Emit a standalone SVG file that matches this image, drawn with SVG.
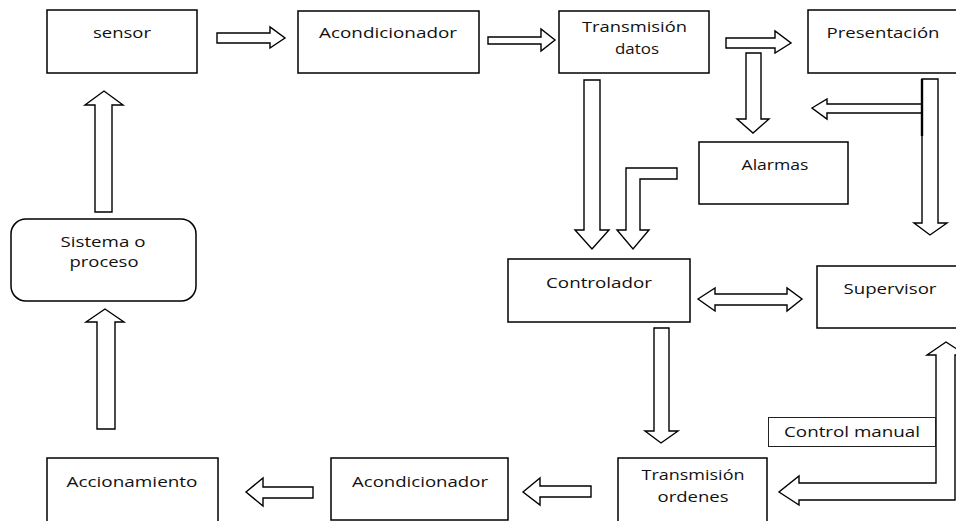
<svg xmlns="http://www.w3.org/2000/svg" width="956" height="521" viewBox="0 0 956 521">
<style>
.box{fill:#fff;stroke:#000;stroke-width:1.5}
.thin{fill:#fff;stroke:#222;stroke-width:1}
.arr{fill:#fff;stroke:#000;stroke-width:1.4;stroke-linejoin:miter}
text{font-family:"Open Sans","Noto Sans","DejaVu Sans",sans-serif;font-size:14px;fill:#111;text-anchor:middle}
</style>
<rect width="956" height="521" fill="#fff"/>
<g id="connectors">
<polygon class="arr" points="217,33 270,33 270,27 285,38 270,48 270,43 217,43"/>
<polygon class="arr" points="488,37 541,37 541,29 555,40 541,51 541,44 488,44"/>
<polygon class="arr" points="726,38 775,38 775,31 791,43 775,53 775,48 726,48"/>
<polygon class="arr" points="746,53 761,53 761,119 769,119 753,133 737,119 746,119"/>
<polygon class="arr" points="922,79 938,79 938,223 947,223 930,235 914,223 922,223"/>
<polygon class="arr" points="812,108 827,99 827,104 922,104 922,113 827,113 827,119"/>
<line x1="922" y1="79" x2="922" y2="136" stroke="#000" stroke-width="2.4"/>
<polygon class="arr" points="584,80 600,80 600,230 609,230 592,249 575,230 584,230"/>
<polygon class="arr" points="677,168 626,168 626,230 617,230 633,249 649,230 640,230 640,179 677,179"/>
<polygon class="arr" points="698,299 715,288 715,294 787,294 787,288 802,299 787,311 787,305 715,305 715,311"/>
<polygon class="arr" points="654,328 669,328 669,431 678,431 661,443 645,431 654,431"/>
<polygon class="arr" points="946,342 966,355 955,355 955,500 799,500 799,505 779,492 799,476 799,483 936,483 936,355 927,355"/>
<polygon class="arr" points="523,492 540,478 540,486 591,486 591,497 540,497 540,505"/>
<polygon class="arr" points="246,492 263,478 263,487 313,487 313,498 263,498 263,506"/>
<polygon class="arr" points="95,212 95,105 85,105 104,91 123,105 112,105 112,212"/>
<polygon class="arr" points="97,429 97,322 86,322 105,309 124,322 115,322 115,429"/>
</g>
<g id="sensor"><rect class="box" x="47" y="10" width="150" height="63"/><text x="122" y="38" textLength="58" lengthAdjust="spacingAndGlyphs">sensor</text></g>
<g id="acondicionador1"><rect class="box" x="298" y="11" width="181" height="62"/><text x="388" y="38" textLength="138" lengthAdjust="spacingAndGlyphs">Acondicionador</text></g>
<g id="transmision-datos"><rect class="box" x="559" y="11" width="150" height="62"/><text x="634.5" y="32" textLength="105" lengthAdjust="spacingAndGlyphs">Transmisión</text><text x="637" y="54" textLength="44" lengthAdjust="spacingAndGlyphs">datos</text></g>
<g id="presentacion"><rect class="box" x="808" y="10" width="170" height="63"/><text x="883" y="38" textLength="113" lengthAdjust="spacingAndGlyphs">Presentación</text></g>
<g id="alarmas"><rect class="box" x="699" y="142" width="149" height="62"/><text x="775" y="170" textLength="67" lengthAdjust="spacingAndGlyphs">Alarmas</text></g>
<g id="controlador"><rect class="box" x="508" y="259" width="182" height="63"/><text x="599" y="288" textLength="106" lengthAdjust="spacingAndGlyphs">Controlador</text></g>
<g id="supervisor"><rect class="box" x="817" y="266" width="170" height="62"/><text x="890" y="294" textLength="93" lengthAdjust="spacingAndGlyphs">Supervisor</text></g>
<g id="control-manual"><rect class="thin" x="768.5" y="417.5" width="167" height="29"/><text x="852" y="437" textLength="136" lengthAdjust="spacingAndGlyphs">Control manual</text></g>
<g id="transmision-ordenes"><rect class="box" x="618" y="458" width="149" height="75"/><text x="693" y="480" textLength="103" lengthAdjust="spacingAndGlyphs">Transmisión</text><text x="693" y="502" textLength="71" lengthAdjust="spacingAndGlyphs">ordenes</text></g>
<g id="acondicionador2"><rect class="box" x="331" y="458" width="177" height="62"/><text x="420" y="487" textLength="136" lengthAdjust="spacingAndGlyphs">Acondicionador</text></g>
<g id="accionamiento"><rect class="box" x="47" y="458" width="171" height="75"/><text x="132" y="487" textLength="131" lengthAdjust="spacingAndGlyphs">Accionamiento</text></g>
<g id="sistema"><rect class="box" x="11" y="219" width="185" height="82" rx="15" ry="15"/><text x="103" y="247" textLength="85" lengthAdjust="spacingAndGlyphs">Sistema o</text><text x="104" y="267" textLength="69" lengthAdjust="spacingAndGlyphs">proceso</text></g>
</svg>
